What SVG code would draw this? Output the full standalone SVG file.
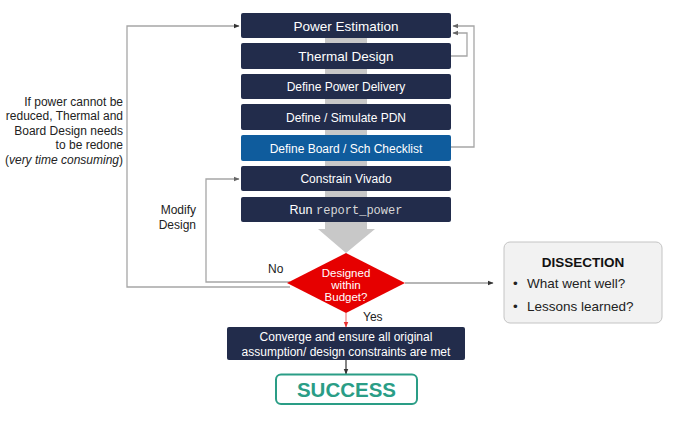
<svg xmlns="http://www.w3.org/2000/svg" width="680" height="425" viewBox="0 0 680 425">
<defs>
<style>
.box{fill:#222c4b;}
.blue{fill:#0f5c9d;}
.bt{font-family:"Liberation Sans",Arial,sans-serif;fill:#ffffff;text-anchor:middle;font-size:12px;}
.lbl{font-family:"Liberation Sans",Arial,sans-serif;fill:#222222;font-size:12px;}
.conn{fill:none;stroke:#a6a6a6;stroke-width:1.3;}
.dark{fill:none;stroke:#6e6e6e;stroke-width:1.1;}
</style>
<marker id="ah" viewBox="0 0 10 10" refX="9" refY="5" markerWidth="6" markerHeight="6" orient="auto" markerUnits="userSpaceOnUse">
<path d="M0,1 L10,5 L0,9 Z" fill="#333333"/>
</marker>
<marker id="ahg" viewBox="0 0 10 10" refX="9" refY="5" markerWidth="6" markerHeight="6" orient="auto" markerUnits="userSpaceOnUse">
<path d="M0,1 L10,5 L0,9 Z" fill="#666666"/>
</marker>
<marker id="ahr" viewBox="0 0 10 10" refX="9" refY="5" markerWidth="6" markerHeight="6" orient="auto" markerUnits="userSpaceOnUse">
<path d="M0,1 L10,5 L0,9 Z" fill="#e83030"/>
</marker>
</defs>
<rect width="680" height="425" fill="#ffffff"/>

<g id="flow-arrow">
<path d="M325,38 H367 V229 H375 L346,253 L318,229 H325 Z" fill="#c8c8c8"/>
</g>

<g id="connectors">
<path class="conn" d="M290,287 H127 V26 H239" marker-end="url(#ah)"/>
<path class="conn" d="M290,282 H206 V179 H239" marker-end="url(#ahg)"/>
<path class="conn" d="M451,147 H474 V26 H453" marker-end="url(#ahg)"/>
<path class="conn" d="M451,56 H467 V33 H453" marker-end="url(#ahg)"/>
<path class="dark" d="M405,283 H493" marker-end="url(#ah)"/>
<path fill="none" stroke="#f08080" stroke-width="1.2" d="M346,313 V327" marker-end="url(#ahr)"/>
<path fill="none" stroke="#333333" stroke-width="1.2" d="M346,360 V374" marker-end="url(#ah)"/>
</g>

<g id="power-estimation">
<rect class="box" x="241" y="13" width="210" height="25" rx="2"/>
<text class="bt" x="346" y="30.5" style="font-size:13.5px">Power Estimation</text>
</g>
<g id="thermal-design">
<rect class="box" x="241" y="43" width="210" height="26" rx="2"/>
<text class="bt" x="346" y="61" style="font-size:13.5px">Thermal Design</text>
</g>
<g id="define-power-delivery">
<rect class="box" x="241" y="74" width="210" height="25" rx="2"/>
<text class="bt" x="346" y="91">Define Power Delivery</text>
</g>
<g id="define-simulate-pdn">
<rect class="box" x="241" y="104" width="210" height="26" rx="2"/>
<text class="bt" x="346" y="121.5">Define / Simulate PDN</text>
</g>
<g id="define-board-checklist">
<rect class="blue" x="241" y="135" width="210" height="26" rx="2"/>
<text class="bt" x="346" y="152.5">Define Board / Sch Checklist</text>
</g>
<g id="constrain-vivado">
<rect class="box" x="241" y="166" width="210" height="25" rx="2"/>
<text class="bt" x="346" y="183">Constrain Vivado</text>
</g>
<g id="run-report-power">
<rect class="box" x="241" y="197" width="210" height="25" rx="2"/>
<text class="bt" x="346" y="214" style="font-size:12.5px">Run <tspan style="font-family:'Liberation Mono',monospace;font-size:12px" fill="#d8d8d8">report_power</tspan></text>
</g>

<g id="decision">
<path d="M346,253 L405,283 L346,313 L287,283 Z" fill="#e60000"/>
<text class="bt" x="346" y="277" style="font-size:11.5px">Designed</text>
<text class="bt" x="346" y="289" style="font-size:11.5px">within</text>
<text class="bt" x="346" y="301" style="font-size:11.5px">Budget?</text>
</g>

<g id="converge">
<rect class="box" x="227" y="327" width="238" height="33" rx="2"/>
<text class="bt" x="346" y="340.5">Converge and ensure all original</text>
<text class="bt" x="346" y="355.5">assumption/ design constraints are met</text>
</g>

<g id="success">
<rect x="276" y="374.5" width="141" height="29.5" rx="5" fill="#ffffff" stroke="#2a9d86" stroke-width="2"/>
<text x="346.5" y="396.5" text-anchor="middle" font-family="'Liberation Sans',Arial,sans-serif" font-weight="bold" font-size="20.5" fill="#2a9d86">SUCCESS</text>
</g>

<g id="dissection">
<rect x="504" y="242" width="158" height="81" rx="6" fill="#f2f2f2" stroke="#c4c4c4" stroke-width="1"/>
<text x="583" y="267" text-anchor="middle" font-family="'Liberation Sans',Arial,sans-serif" font-weight="bold" font-size="13.5" fill="#111111">DISSECTION</text>
<text x="513" y="288" font-family="'Liberation Sans',Arial,sans-serif" font-size="13.5" fill="#222222">•</text>
<text x="527" y="288" font-family="'Liberation Sans',Arial,sans-serif" font-size="13.5" fill="#222222">What went well?</text>
<text x="513" y="311" font-family="'Liberation Sans',Arial,sans-serif" font-size="13.5" fill="#222222">•</text>
<text x="527" y="311" font-family="'Liberation Sans',Arial,sans-serif" font-size="13.5" fill="#222222">Lessons learned?</text>
</g>

<g id="labels">
<text class="lbl" x="123" y="105.5" text-anchor="end">If power cannot be</text>
<text class="lbl" x="123" y="120" text-anchor="end">reduced, Thermal and</text>
<text class="lbl" x="123" y="134.5" text-anchor="end">Board Design needs</text>
<text class="lbl" x="123" y="149" text-anchor="end">to be redone</text>
<text class="lbl" x="123" y="163.5" text-anchor="end">(<tspan font-style="italic">very time consuming</tspan>)</text>
<text class="lbl" x="196" y="214" text-anchor="end">Modify</text>
<text class="lbl" x="196" y="228.5" text-anchor="end">Design</text>
<text class="lbl" x="268" y="272.5">No</text>
<text class="lbl" x="363" y="321">Yes</text>
</g>
</svg>
